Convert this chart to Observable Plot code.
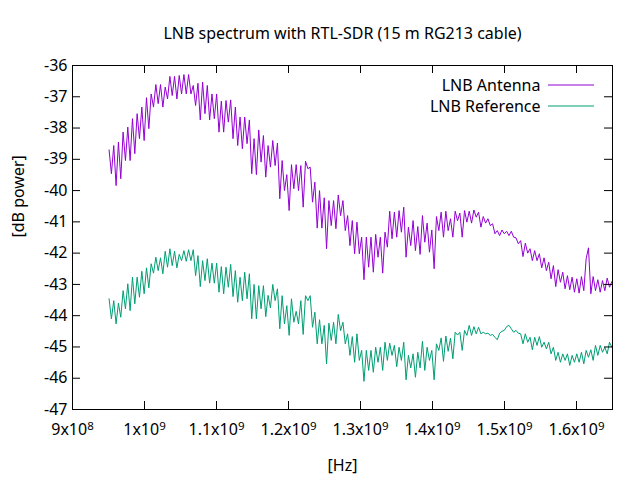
<!DOCTYPE html>
<html><head><meta charset="utf-8">
<script src="https://cdn.jsdelivr.net/npm/d3@7"></script>
<script src="https://cdn.jsdelivr.net/npm/@observablehq/plot@0.6"></script>
<style>
html,body{margin:0;padding:0;background:#fff;}
</style>
</head><body><div id="chart"></div>
<script>
const title = "LNB spectrum with RTL-SDR (15 m RG213 cable)";
const xLabel = "[Hz]";
const yLabel = "[dB power]";
const seriesNames = ["LNB Antenna", "LNB Reference"];
const seriesColors = ["#9400d3", "#009e73"];
const xTicks = [9e8, 1e9, 1.1e9, 1.2e9, 1.3e9, 1.4e9, 1.5e9, 1.6e9];
const xTickLabels = ["9x10^8", "1x10^9", "1.1x10^9", "1.2x10^9", "1.3x10^9", "1.4x10^9", "1.5x10^9", "1.6x10^9"];
const yTicks = [-47, -46, -45, -44, -43, -42, -41, -40, -39, -38, -37, -36];
const xDomain = [9e8, 1.65e9];
const yDomain = [-47, -36];

// sample grid of the spectrum (Hz)
const freqStart = 950.8e6;
const freqStep = 3.248e6;

const antenna = [
-38.70,-39.46,-38.56,-39.84,-38.45,-39.62,-38.13,-39.04,-37.97,-39.04,
-37.70,-38.82,-37.54,-38.34,-37.33,-38.40,-37.03,-38.02,-36.91,-37.33,
-36.61,-37.22,-36.61,-37.33,-36.69,-37.07,-36.35,-36.96,-36.35,-37.07,
-36.32,-36.91,-36.29,-36.91,-36.29,-36.91,-36.64,-37.28,-36.57,-37.74,
-36.53,-37.54,-36.64,-37.74,-36.91,-37.70,-36.91,-38.13,-37.14,-38.13,
-37.12,-37.81,-37.10,-38.34,-37.33,-38.56,-37.65,-38.66,-37.65,-38.50,
-37.74,-39.46,-38.34,-39.49,-38.06,-39.09,-38.24,-39.57,-38.56,-39.25,
-38.40,-39.20,-38.48,-40.26,-39.04,-40.00,-39.49,-40.64,-39.17,-39.94,
-39.17,-40.00,-39.20,-40.53,-39.06,-39.30,-39.25,-40.37,-39.73,-41.20,
-40.00,-41.20,-40.23,-41.86,-40.32,-41.12,-40.32,-41.22,-40.14,-40.80,
-40.32,-41.28,-40.80,-41.76,-40.96,-42.02,-41.01,-42.02,-41.49,-42.85,
-41.49,-42.45,-41.49,-42.61,-41.40,-42.13,-41.49,-42.64,-41.33,-41.81,
-40.66,-41.54,-40.69,-41.49,-40.64,-41.33,-40.53,-42.13,-41.17,-41.76,
-40.96,-41.92,-41.15,-42.04,-40.80,-41.65,-41.04,-41.97,-41.26,-42.50,
-40.83,-41.28,-40.69,-41.49,-40.66,-41.28,-40.90,-41.49,-40.66,-40.96,
-40.72,-41.49,-40.64,-41.01,-40.66,-41.04,-40.62,-40.85,-40.69,-41.17,
-40.83,-41.04,-40.90,-41.12,-41.06,-41.38,-41.28,-41.44,-41.26,-41.38,
-41.30,-41.44,-41.30,-41.49,-41.51,-41.70,-41.60,-42.11,-41.68,-42.00,
-41.86,-42.24,-41.92,-42.24,-42.02,-42.47,-42.15,-42.56,-42.29,-42.82,
-42.40,-43.07,-42.53,-42.93,-42.61,-43.14,-42.72,-43.17,-42.77,-43.25,
-42.82,-43.28,-42.75,-43.20,-42.18,-41.83,-43.30,-42.75,-43.20,-42.85,
-43.25,-42.88,-43.20,-42.80,-43.09,-42.91
];

const reference = [
-43.46,-44.10,-43.52,-44.26,-43.60,-44.05,-43.20,-43.78,-42.98,-43.84,
-42.77,-43.62,-42.77,-43.41,-42.58,-43.30,-42.47,-43.11,-42.34,-42.64,
-42.13,-42.56,-42.15,-42.66,-41.94,-42.45,-41.86,-42.40,-41.94,-42.47,
-42.04,-42.24,-41.92,-42.26,-41.89,-42.24,-41.89,-42.72,-42.08,-43.07,
-42.24,-42.88,-42.18,-42.96,-42.32,-42.96,-42.32,-43.25,-42.43,-43.30,
-42.45,-43.09,-42.36,-43.39,-42.56,-43.57,-42.77,-43.52,-42.61,-43.46,
-42.66,-44.10,-43.00,-44.10,-43.04,-43.78,-43.04,-44.03,-43.35,-43.75,
-43.00,-43.52,-43.14,-44.42,-43.36,-44.26,-43.68,-44.63,-43.46,-44.21,
-43.86,-44.26,-43.52,-44.60,-43.36,-43.52,-43.36,-44.37,-43.89,-44.90,
-44.13,-44.90,-44.31,-45.54,-44.24,-44.79,-44.21,-44.90,-43.96,-44.48,
-44.21,-44.90,-44.58,-45.27,-44.67,-45.49,-44.58,-45.43,-45.11,-46.10,
-45.11,-45.75,-45.11,-45.81,-45.01,-45.49,-45.01,-45.75,-44.85,-45.43,
-44.88,-45.27,-44.95,-45.63,-45.01,-45.43,-44.85,-46.05,-45.27,-45.67,
-45.22,-45.97,-45.17,-45.67,-44.82,-45.75,-45.01,-45.43,-45.11,-46.05,
-44.90,-45.11,-44.71,-45.46,-44.65,-45.14,-44.72,-45.38,-44.53,-44.62,
-44.53,-45.11,-44.47,-44.63,-44.31,-44.63,-44.35,-44.58,-44.37,-44.58,
-44.53,-44.58,-44.56,-44.63,-44.60,-44.69,-44.77,-44.56,-44.50,-44.47,
-44.35,-44.31,-44.42,-44.53,-44.47,-44.56,-44.58,-44.90,-44.58,-44.85,
-44.69,-45.09,-44.69,-44.95,-44.67,-45.01,-44.85,-45.06,-44.85,-45.22,
-45.01,-45.43,-45.17,-45.49,-45.22,-45.43,-45.22,-45.59,-45.27,-45.49,
-45.22,-45.49,-45.17,-45.54,-45.11,-45.33,-45.09,-45.43,-44.95,-45.27,
-44.95,-45.17,-45.01,-45.22,-44.85,-45.01
];

const W = 640, H = 480, mL = 72, mR = 28, mT = 65, mB = 71;
const frameW = W - mL - mR, frameH = H - mT - mB;
const tickLen = 8;
const FS = 16;

const rows = [];
antenna.forEach((v, i) => rows.push({f: freqStart + i * freqStep, v, s: seriesNames[0]}));
reference.forEach((v, i) => rows.push({f: freqStart + i * freqStep, v, s: seriesNames[1]}));

const fmtX = d => {
  let best = 0;
  xTicks.forEach((t, i) => { if (Math.abs(t - d) < Math.abs(xTicks[best] - d)) best = i; });
  return xTickLabels[best];
};

const chart = Plot.plot({
  width: W, height: H,
  marginLeft: mL, marginRight: mR, marginTop: mT, marginBottom: mB,
  style: {fontFamily: "'Noto Sans', 'Open Sans', sans-serif", fontSize: FS + "px", color: "#000", background: "#fff", overflow: "visible"},
  x: {domain: xDomain},
  y: {domain: yDomain},
  color: {domain: seriesNames, range: seriesColors},
  marks: [
    Plot.line(rows, {x: "f", y: "v", stroke: "s", z: "s", strokeWidth: 1}),
    Plot.tickX(xTicks, {x: d => d, insetTop: frameH - tickLen, stroke: "#000"}),
    Plot.tickX(xTicks, {x: d => d, insetBottom: frameH - tickLen, stroke: "#000"}),
    Plot.tickY(yTicks, {y: d => d, insetRight: frameW - tickLen, stroke: "#000"}),
    Plot.tickY(yTicks, {y: d => d, insetLeft: frameW - tickLen, stroke: "#000"}),
    Plot.frame({stroke: "#000"}),
    Plot.axisX(xTicks, {tickSize: 0, tickPadding: 14, tickFormat: fmtX, label: null, fontSize: FS}),
    Plot.axisY(yTicks, {tickSize: 0, tickPadding: 5, tickFormat: d => String(d), label: null, fontSize: FS}),
    Plot.text([title], {text: d => d, frameAnchor: "top", lineAnchor: "middle", dy: -32, fontSize: FS}),
    Plot.text([xLabel], {text: d => d, frameAnchor: "bottom", lineAnchor: "middle", dy: 56, fontSize: FS}),
    Plot.text([yLabel], {text: d => d, frameAnchor: "left", lineAnchor: "middle", dx: -54, rotate: -90, fontSize: FS}),
    Plot.text([seriesNames[0]], {text: d => d, frameAnchor: "top-right", lineAnchor: "middle", dx: -72, dy: 20, textAnchor: "end", fontSize: FS}),
    Plot.text([seriesNames[1]], {text: d => d, frameAnchor: "top-right", lineAnchor: "middle", dx: -72, dy: 41, textAnchor: "end", fontSize: FS})
  ]
});

// superscript exponents in tick labels
d3.select(chart).selectAll("text").each(function () {
  const t = this.textContent;
  const m = /^(.*x10)\^(\d+)$/.exec(t);
  if (m) {
    const sel = d3.select(this);
    sel.text(null);
    sel.append("tspan").text(m[1]);
    sel.append("tspan").attr("dy", "-0.45em").attr("font-size", "0.72em").text(m[2]);
  }
});

// legend line samples
const svg = d3.select(chart);
const lg = svg.append("g");
seriesColors.forEach((c, i) => {
  lg.append("line")
    .attr("x1", W - mR - 64).attr("x2", W - mR - 18)
    .attr("y1", mT + 20 + i * 21).attr("y2", mT + 20 + i * 21)
    .attr("stroke", c).attr("stroke-width", 1);
});

document.getElementById("chart").appendChild(chart);
</script>
</body></html>
